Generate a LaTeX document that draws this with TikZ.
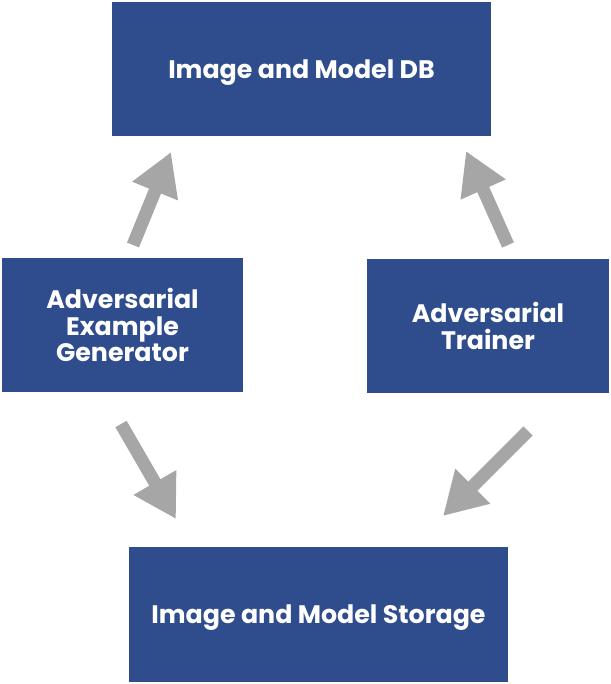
\documentclass[tikz,border=0pt]{standalone}
\usepackage{fontspec}
\setmainfont{Poppins}
\usetikzlibrary{arrows.meta}

\definecolor{boxblue}{HTML}{2F4C8C}
\definecolor{arrowgray}{HTML}{A6A6A6}

\tikzset{
  dbbox/.style={fill=boxblue, draw=none, text=white, font=\bfseries\fontsize{18}{19}\selectfont,
    align=center, inner sep=0pt},
  bigarrow/.style={draw=arrowgray, line width=9.2pt,
    -{Triangle[width=33pt, length=30pt]}}
}

\begin{document}
\begin{tikzpicture}[x=0.025cm, y=-0.025cm]
  \useasboundingbox (0,0) rectangle (611,684);
  \node[dbbox, text depth=0pt, minimum width=379*0.025cm, minimum height=134*0.025cm] (db) at (301.5,69) {Image and Model DB};
  \node[dbbox, minimum width=241*0.025cm, minimum height=134*0.025cm] (gen) at (122.5,325) {Adversarial\\Example\\Generator};
  \node[dbbox, minimum width=242*0.025cm, minimum height=134*0.025cm] (trainer) at (488,326) {Adversarial\\Trainer};
  \node[dbbox, text depth=0pt, minimum width=379*0.025cm, minimum height=135*0.025cm] (storage) at (318.5,614.5) {Image and Model Storage};
  % arrow ends
  \coordinate (a1) at (133,245);
  \coordinate (b1) at (171,152);
  \coordinate (a2) at (508,245);
  \coordinate (b2) at (466,151);
  \coordinate (a3) at (121,424);
  \coordinate (b3) at (176,519);
  \coordinate (a4) at (528,431);
  \coordinate (b4) at (443,516);
  \draw[bigarrow] (a1) -- (b1);
  \draw[bigarrow] (a2) -- (b2);
  \draw[bigarrow] (a3) -- (b3);
  \draw[bigarrow] (a4) -- (b4);
\end{tikzpicture}
\end{document}
